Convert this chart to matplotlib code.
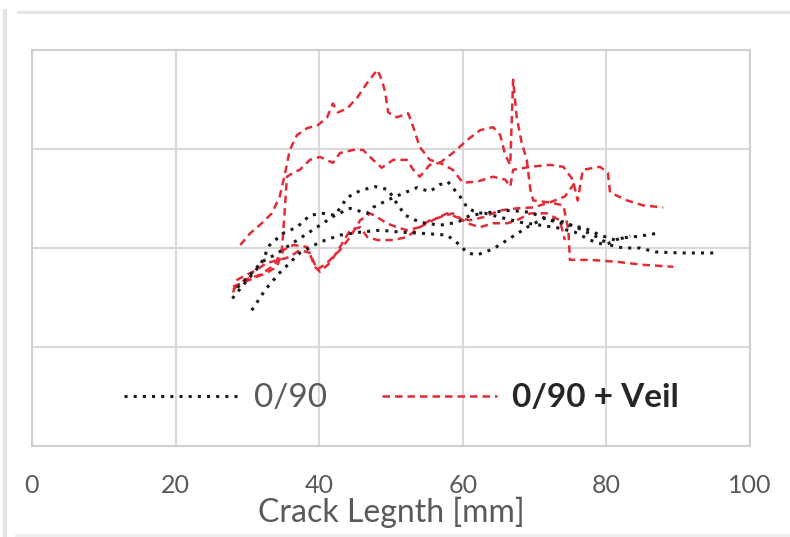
import matplotlib
matplotlib.use('Agg')
import matplotlib.pyplot as plt
from matplotlib.lines import Line2D

# crack length [mm] and (unlabelled) response for each specimen
k1_x = [30.6, 32.5, 34.5, 37.3, 40.1, 42.9, 45.7, 48.5, 51.3, 54.0, 57.8, 59.6, 60.6, 62.0, 64.2,
        66.6, 69.4, 71.4, 74.2, 76.7, 78.7, 80.5, 82.3, 84.7, 86.8, 90.3, 95.5]
k1_y = [1.37, 1.58, 1.75, 1.95, 2.06, 2.13, 2.16, 2.18, 2.16, 2.15, 2.13, 2.03, 1.95, 1.93, 1.99,
        2.10, 2.23, 2.30, 2.26, 2.18, 2.11, 2.03, 2.00, 2.00, 1.96, 1.95, 1.95]
k2_x = [27.9, 29.7, 31.8, 33.1, 35.0, 36.9, 38.7, 40.5, 42.2, 43.9, 45.7, 47.8, 49.6, 50.8, 52.0,
        54.0, 56.8, 59.3, 61.0, 63.1, 65.2, 68.0, 70.8, 73.5, 75.6, 77.7, 79.8, 81.9, 84.7, 87.2]
k2_y = [1.49, 1.65, 1.83, 2.03, 2.15, 2.21, 2.33, 2.35, 2.33, 2.51, 2.58, 2.62, 2.59, 2.45, 2.33,
        2.26, 2.23, 2.26, 2.33, 2.35, 2.31, 2.26, 2.23, 2.20, 2.16, 2.08, 2.03, 2.10, 2.12, 2.15]
k3_x = [28.6, 30.4, 32.0, 33.8, 35.9, 38.0, 40.1, 42.2, 44.3, 46.7, 47.5, 49.4, 51.3, 53.6, 55.4,
        56.8, 57.9, 59.6, 60.6, 62.0, 63.8, 66.6, 69.4, 72.1, 74.9, 77.0, 79.1, 81.2, 83.3]
k3_y = [1.60, 1.73, 1.86, 1.93, 2.03, 2.13, 2.23, 2.33, 2.40, 2.35, 2.41, 2.48, 2.54, 2.61, 2.57,
        2.64, 2.67, 2.52, 2.41, 2.35, 2.36, 2.38, 2.36, 2.28, 2.23, 2.20, 2.13, 2.08, 2.12]

v1_x = [29.0, 30.4, 32.0, 33.4, 34.5, 35.2, 35.9, 36.9, 38.3, 39.8, 41.1, 41.9, 42.6, 43.9, 45.3,
        46.7, 48.1, 48.7, 49.2, 49.6, 50.8, 52.4, 53.1, 54.0, 55.4, 56.8, 58.6, 60.6, 62.4, 64.2,
        65.2, 65.9, 66.6, 67.0, 67.5, 68.2, 68.9, 69.4, 69.8, 72.1, 74.0, 74.7, 74.9, 77.7, 81.5,
        85.1, 89.3]
v1_y = [2.03, 2.15, 2.25, 2.35, 2.52, 2.74, 2.99, 3.14, 3.21, 3.24, 3.32, 3.46, 3.37, 3.41, 3.52,
        3.67, 3.80, 3.70, 3.57, 3.37, 3.32, 3.36, 3.22, 3.02, 2.89, 2.86, 2.96, 3.09, 3.19, 3.22,
        3.14, 2.94, 2.84, 3.70, 3.32, 3.06, 2.89, 2.59, 2.48, 2.46, 2.43, 2.18, 1.88, 1.88, 1.86,
        1.83, 1.81]
v2_x = [28.0, 29.7, 31.8, 33.8, 34.8, 35.2, 35.5, 36.4, 37.3, 38.7, 40.1, 41.9, 42.9, 44.7, 46.1,
        47.5, 48.7, 50.3, 52.2, 53.1, 54.0, 55.4, 56.8, 58.6, 60.0, 62.0, 64.2, 65.9, 66.6, 67.0,
        69.4, 72.1, 74.0, 75.3, 76.0, 76.7, 79.1, 80.2, 80.5, 82.9, 85.1, 87.9]
v2_y = [1.58, 1.68, 1.73, 1.83, 1.98, 2.38, 2.72, 2.76, 2.79, 2.89, 2.92, 2.86, 2.96, 2.99, 2.99,
        2.89, 2.81, 2.89, 2.89, 2.79, 2.72, 2.84, 2.86, 2.79, 2.66, 2.67, 2.72, 2.69, 2.62, 2.79,
        2.82, 2.84, 2.82, 2.69, 2.48, 2.79, 2.82, 2.76, 2.56, 2.48, 2.43, 2.41]
v3_x = [28.0, 28.6, 31.3, 32.7, 34.5, 35.9, 37.3, 38.7, 39.7, 41.1, 42.9, 44.3, 45.7, 47.1, 48.1,
        49.4, 50.8, 52.2, 54.0, 55.4, 56.8, 58.6, 60.6, 62.4, 64.2, 66.2, 67.5, 69.4, 71.7, 73.5, 74.2]
v3_y = [1.55, 1.68, 1.78, 1.85, 1.88, 1.91, 1.98, 1.95, 1.78, 1.85, 1.98, 2.11, 2.28, 2.35, 2.31,
        2.25, 2.21, 2.18, 2.21, 2.28, 2.31, 2.35, 2.25, 2.21, 2.25, 2.25, 2.28, 2.35, 2.35, 2.28, 2.08]
v4_x = [28.0, 30.4, 32.7, 34.1, 35.0, 36.4, 38.3, 39.4, 40.1, 41.5, 42.9, 44.3, 45.7, 46.7, 48.1,
        50.3, 52.2, 54.0, 55.8, 57.8, 59.2, 61.0, 62.8, 65.2, 67.5, 69.8, 72.1, 74.2, 75.9]
v4_y = [1.61, 1.68, 1.75, 1.81, 1.98, 2.03, 2.01, 1.81, 1.76, 1.85, 2.01, 2.18, 2.21, 2.11, 2.08,
        2.08, 2.11, 2.21, 2.28, 2.35, 2.31, 2.28, 2.31, 2.38, 2.40, 2.41, 2.46, 2.52, 2.69]

x_ticks = [0, 20, 40, 60, 80, 100]
legend_labels = ['0/90', '0/90 + Veil']

plain = [(k1_x, k1_y), (k2_x, k2_y), (k3_x, k3_y)]
veil = [(v1_x, v1_y), (v2_x, v2_y), (v3_x, v3_y), (v4_x, v4_y)]

plt.rcParams['font.family'] = ['Lato', 'DejaVu Sans']

fig = plt.figure(figsize=(7.9, 5.37), dpi=100)
ax = fig.add_axes([0.0405, 0.1695, 0.909, 0.7374])

red = '#e32b36'
dot_style = (0, (1, 2))
dash_style = (0, (3, 2))
for xs, ys in veil:
    ax.plot(xs, ys, color=red, lw=1.8, linestyle=dash_style)
for xs, ys in plain:
    ax.plot(xs, ys, color='#1a1a1a', lw=2.2, linestyle=dot_style)

ax.set_xlim(0, 100)
ax.set_ylim(0, 4)
ax.set_xticks(x_ticks)
ax.set_yticks([0, 1, 2, 3, 4])
ax.set_yticklabels([])
ax.grid(True, color='#d9d9d9', lw=1.5)
ax.set_axisbelow(True)
for s in ax.spines.values():
    s.set_color('#cfcfcf')
    s.set_linewidth(1.5)
ax.tick_params(length=0, pad=20, labelsize=18, labelcolor='#595959')
ax.set_xlabel('Crack Legnth [mm]', fontsize=23, color='#595959', labelpad=0)

handles = [Line2D([], [], color='#1a1a1a', lw=2.2, linestyle=dot_style),
           Line2D([], [], color=red, lw=1.8, linestyle=dash_style)]
leg = ax.legend(handles, legend_labels, loc='center', bbox_to_anchor=(0.515, 0.12), ncol=2,
                frameon=False, fontsize=24, handlelength=3.45, handletextpad=0.45, columnspacing=1.65)
leg.get_texts()[0].set_color('#595959')
leg.get_texts()[1].set_color('#262626')
leg.get_texts()[1].set_fontweight('bold')

# faint border of the original chart box
fig.add_artist(Line2D([0.023, 1.0], [0.978, 0.978], color='#e3e3e3', lw=2))
fig.add_artist(Line2D([0.006, 0.006], [0.0, 0.98], color='#e3e3e3', lw=3))
fig.add_artist(Line2D([0.02, 1.0], [0.004, 0.004], color='#ececec', lw=2))

fig.savefig('out.png', dpi=100, facecolor='white')
